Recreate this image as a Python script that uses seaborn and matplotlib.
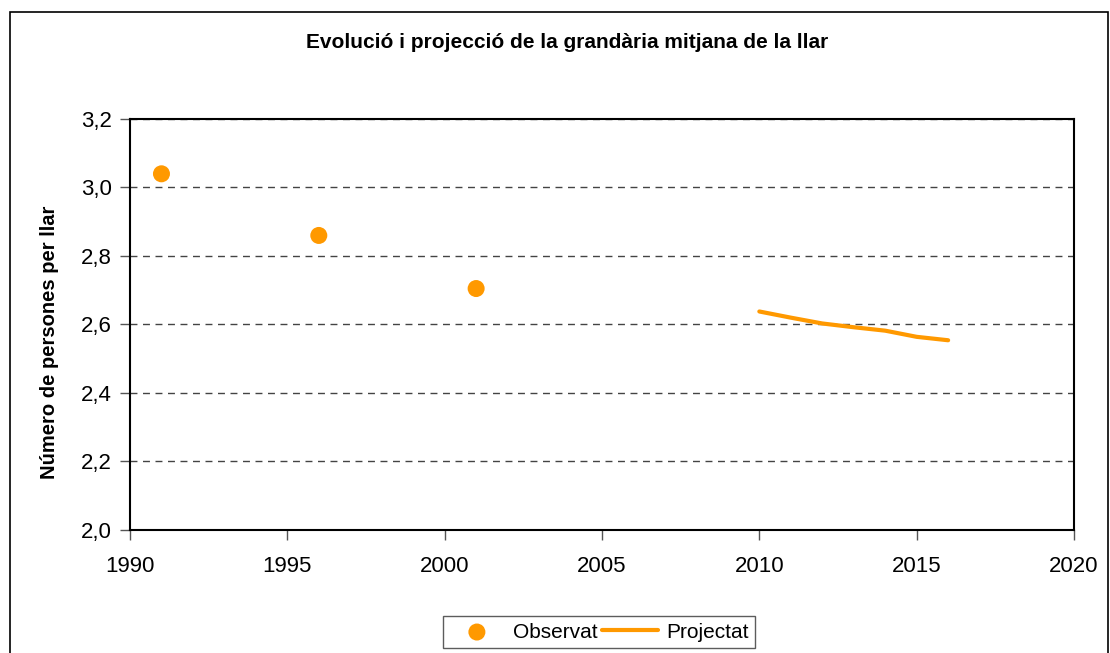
import pandas as pd
import matplotlib.pyplot as plt
import seaborn as sns
from matplotlib.patches import Rectangle

# observed values
obs_years = [1991, 1996, 2001]
obs_values = [3.04, 2.86, 2.705]

# projected values
proj_years = [2010, 2011, 2012, 2013, 2014, 2015, 2016]
proj_values = [2.638, 2.62, 2.603, 2.592, 2.582, 2.564, 2.554]

y_ticks = [2.0, 2.2, 2.4, 2.6, 2.8, 3.0, 3.2]
y_tick_labels = ["2,0", "2,2", "2,4", "2,6", "2,8", "3,0", "3,2"]
x_ticks = [1990, 1995, 2000, 2005, 2010, 2015, 2020]

title = "Evolució i projecció de la grandària mitjana de la llar"
ylabel = "Número de persones per llar"

sns.set_style("white")
plt.rcParams['font.family'] = ['Liberation Sans', 'DejaVu Sans']
plt.rcParams['text.color'] = 'black'
plt.rcParams['axes.labelcolor'] = 'black'
plt.rcParams['xtick.color'] = 'black'
plt.rcParams['ytick.color'] = 'black'

obs_df = pd.DataFrame({"Any": obs_years, "Valor": obs_values})
proj_df = pd.DataFrame({"Any": proj_years, "Valor": proj_values})

orange = "#FF9900"

fig = plt.figure(figsize=(11.1, 6.53), dpi=100)
ax = fig.add_axes([130 / 1110, 1 - 530 / 653, (1074 - 130) / 1110, (530 - 119) / 653])

sns.scatterplot(data=obs_df, x="Any", y="Valor", ax=ax, color=orange, s=150,
                edgecolor="none", label="Observat", zorder=3)
sns.lineplot(data=proj_df, x="Any", y="Valor", ax=ax, color=orange, linewidth=3,
             label="Projectat", zorder=3)

ax.set_xlim(1990, 2020)
ax.set_ylim(2.0, 3.2)
ax.set_xticks(x_ticks)
ax.set_xticklabels([str(x) for x in x_ticks], fontsize=16)
ax.set_yticks(y_ticks)
ax.set_yticklabels(y_tick_labels, fontsize=16)
ax.tick_params(axis="both", direction="out", length=7, width=1, color="#555555",
               pad=6, left=True, bottom=True)
ax.tick_params(axis="x", pad=12)

ax.yaxis.grid(True, linestyle=(0, (5, 4)), color="#444444", linewidth=1)
ax.set_axisbelow(True)
for side in ["left", "bottom", "top", "right"]:
    ax.spines[side].set_visible(True)
    ax.spines[side].set_color("black")
    ax.spines[side].set_linewidth(1.5)

ax.set_xlabel("")
ax.set_ylabel(ylabel, fontsize=14.5, fontweight="bold")
ax.yaxis.set_label_coords((59 - 130) / 944, (530 - 342) / 411)

fig.text(0.511, 1 - 43 / 653, title, ha="center", va="center", fontsize=15,
         fontweight="bold")

leg = ax.legend(loc="center", bbox_to_anchor=((599 - 130) / (1074 - 130), -(632 - 530) / (530 - 119)),
                ncol=2, frameon=True, fancybox=False, fontsize=15, handlelength=2.7,
                columnspacing=0.2, handletextpad=0.4, borderpad=0.3)
leg.get_frame().set_edgecolor("#333333")
leg.get_frame().set_linewidth(1)

# outer chart border
fig.patches.append(Rectangle((10 / 1110, -0.05), 1098 / 1110, 1.05 - 12 / 653,
                             transform=fig.transFigure, fill=False,
                             edgecolor="black", linewidth=1.2))

fig.savefig("out.png", dpi=100)
